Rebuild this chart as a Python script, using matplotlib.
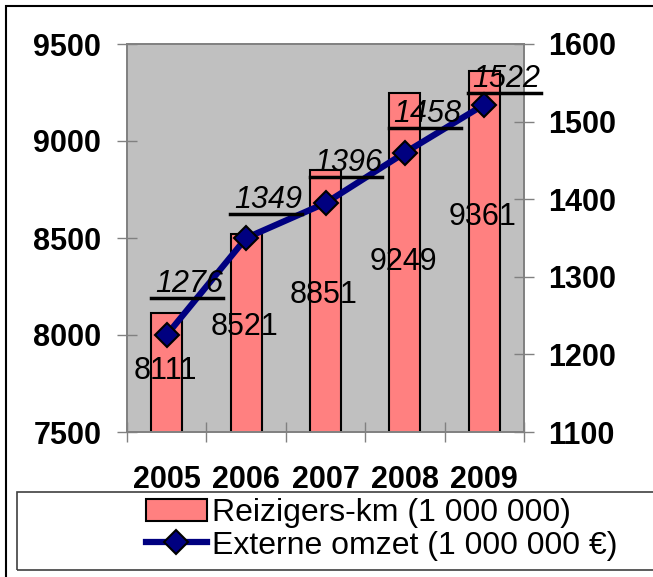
import matplotlib.pyplot as plt
from matplotlib.patches import Rectangle
from matplotlib.lines import Line2D

plt.rcParams['font.family'] = ['Liberation Sans', 'DejaVu Sans']

# data
years = ['2005', '2006', '2007', '2008', '2009']
reizigers_km = [8111, 8521, 8851, 9249, 9361]
omzet_plot = [1225, 1350, 1395, 1460, 1522]
omzet_labels = ['1276', '1349', '1396', '1458', '1522']

# label placement (as in the original, manually placed)
km_label_y = [7814, 8041, 8206, 8376, 8608]
omzet_label_y = [1273, 1381, 1429, 1492, 1537]

fig = plt.figure(figsize=(6.53, 5.77), dpi=100)
ax = fig.add_axes([127 / 653, 1 - 432 / 577, 397 / 653, 388 / 577])
ax2 = ax.twinx()

x = list(range(len(years)))
ax.set_facecolor('#C0C0C0')
ax.bar(x, reizigers_km, width=0.39, color='#FF8080', edgecolor='black', linewidth=1.5, zorder=2)
ax.set_xlim(-0.5, 4.5)
ax.set_ylim(7500, 9500)
ax.set_yticks([7500, 8000, 8500, 9000, 9500])

ax2.plot(x, omzet_plot, color='#000080', linewidth=4.5, marker='D', markersize=12,
         markerfacecolor='#000080', markeredgecolor='black', markeredgewidth=1.5, zorder=3)
ax2.set_ylim(1100, 1600)
ax2.set_yticks([1100, 1200, 1300, 1400, 1500, 1600])

for a in (ax, ax2):
    for s in a.spines.values():
        s.set_color('#808080')
        s.set_linewidth(1.2)
ax.tick_params(axis='y', direction='inout', length=15, width=1, color='#808080', pad=11,
               labelsize=22)
ax2.tick_params(axis='y', direction='inout', length=15, width=1, color='#808080', pad=10,
                labelsize=22)
for lab in ax.get_yticklabels() + ax2.get_yticklabels():
    lab.set_fontweight('bold')

ax.set_xticks([-0.5, 0.5, 1.5, 2.5, 3.5, 4.5])
ax.set_xticklabels([])
ax.tick_params(axis='x', which='major', direction='inout', length=15, width=1, color='#808080')
ax.set_xticks(x, minor=True)
ax.set_xticklabels(years, minor=True, fontsize=22, fontweight='bold')
ax.tick_params(axis='x', which='minor', length=0, pad=24)

# bar value labels
for i, v in enumerate(reizigers_km):
    ax.text(i - 0.02, km_label_y[i], str(v), ha='center', va='center', fontsize=22, zorder=5)

# line value labels, italic with underline
for i, lab in enumerate(omzet_labels):
    x0, x1 = i - 0.2, i + 0.71
    ax2.plot([x0, x1], [omzet_label_y[i]] * 2, color='black', linewidth=2.5,
             clip_on=False, zorder=6)
    ax2.annotate(lab, (i + 0.28, omzet_label_y[i]), xytext=(0, 4), textcoords='offset points',
                 ha='center', va='baseline', fontsize=22, fontstyle='italic',
                 annotation_clip=False, zorder=6)

# outer border of the chart (right and bottom edges lie outside the picture)
fig.patches.append(Rectangle((6 / 653, -0.1), 1.2, 1 - 6 / 577 + 0.1, transform=fig.transFigure,
                             fill=False, edgecolor='black', linewidth=1.5))
# legend box
fig.patches.append(Rectangle((17 / 653, 1 - 570 / 577), 1.2, 78 / 577, transform=fig.transFigure,
                             fill=False, edgecolor='#404040', linewidth=1.2))

handles = [
    Rectangle((0, 0), 1, 1, facecolor='#FF8080', edgecolor='black', linewidth=1.5),
    Line2D([], [], color='#000080', linewidth=4.5, marker='D', markersize=12,
           markerfacecolor='#000080', markeredgecolor='black', markeredgewidth=1.5),
]
fig.legend(handles, ['Reizigers-km (1 000 000)', 'Externe omzet (1 000 000 €)'],
           loc='upper left', bbox_to_anchor=(146 / 653, 1 - 498 / 577), frameon=False,
           fontsize=23, handlelength=1.9, handletextpad=0.18, borderpad=0, borderaxespad=0,
           labelspacing=0.08)

fig.savefig('out.png', dpi=100)
